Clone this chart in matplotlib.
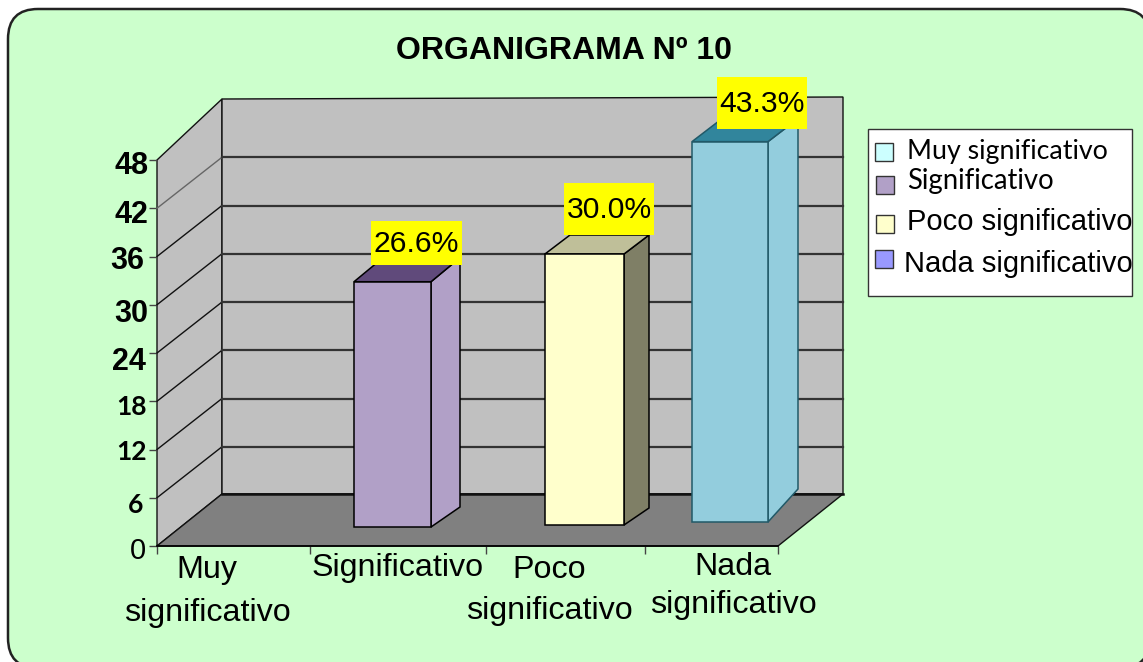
import matplotlib
matplotlib.use('Agg')
import matplotlib.pyplot as plt
import matplotlib.transforms as mtransforms
from matplotlib.patches import FancyBboxPatch, Polygon, Rectangle

# data
categories = ['Muy\nsignificativo', 'Significativo', 'Poco\nsignificativo', 'Nada\nsignificativo']
values = [30.5, 33.7, 47.3]
value_labels = ['26.6%', '30.0%', '43.3%']
y_ticks = [0, 6, 12, 18, 24, 30, 36, 42, 48]
legend_labels = ['Muy significativo', 'Significativo', 'Poco significativo', 'Nada significativo']
legend_colors = ['#CCFFFF', '#B1A0C7', '#FFFFCC', '#9999FF']

W, H = 1143, 662
L, R, B, T = 157, 778, 546, 160
UNIT = (B - T) / 48.0

# bar layout, in pixels
bar_left = [354, 545, 692]
bar_width = [77, 79, 76]
bar_base = [19, 21, 24]
bar_dx = [29, 25, 30]
bar_dy_top = [24, 19, 23]
bar_dy_bot = [20, 17, 33]
front_col = ['#B1A0C7', '#FFFFCC', '#93CDDD']
top_col = ['#604A7B', '#BFBF99', '#31859C']
side_col = ['#B1A0C7', '#7F7F66', '#93CDDD']
edge_col = ['black', 'black', '#215968']
label_box = [(371, 221, 91, 44), (564, 183, 90, 52), (717, 77, 90, 52)]
cat_x = [207, 398, 549, 733]
cat_line_y = [(570, 613), (568,), (570, 611), (567, 605)]


def yv(py):
    return (B - py) / UNIT


fig = plt.figure(figsize=(W / 100, H / 100), dpi=100, facecolor='white')

# background panel, title and legend in pixel coordinates
bg = fig.add_axes([0, 0, 1, 1])
bg.set_xlim(0, W)
bg.set_ylim(H, 0)
bg.axis('off')
bg.add_patch(FancyBboxPatch((8 + 30, 9 + 30), 1150 - 30 - 38, 668 - 39 - 30,
                            boxstyle='round,pad=30,rounding_size=30',
                            fc='#CCFFCC', ec='#222222', lw=1.8))
bg.text(564, 51, 'ORGANIGRAMA Nº 10', ha='center', va='center', fontsize=23,
        fontweight='bold', family='Liberation Sans', color='black')

bg.add_patch(Rectangle((868, 129), 264, 167, fc='white', ec='#333333', lw=1))
swatches = [(875, 143), (876, 176), (876, 215), (875, 250)]
for (sx, sy), c in zip(swatches, legend_colors):
    bg.add_patch(Rectangle((sx, sy), 18, 18, fc=c, ec='#333333', lw=1))
bg.text(907, 151, legend_labels[0], family='Lato', fontsize=19.3, va='center', color='black')
bg.text(907, 181, legend_labels[1], family='Lato', fontsize=19.8, va='center', color='black')
bg.text(907, 222, legend_labels[2], family='Liberation Sans', fontsize=21, va='center', color='black')
bg.text(904, 264, legend_labels[3], family='Liberation Sans', fontsize=21, va='center', color='black')

# plot axes, front plane of the 3D box
ax = fig.add_axes([L / W, 1 - B / H, (R - L) / W, (B - T) / H])
ax.set_xlim(L, R)
ax.set_ylim(0, 48)
ax.patch.set_visible(False)
for s in ['top', 'right', 'left']:
    ax.spines[s].set_visible(False)
ax.spines['bottom'].set_linewidth(1.2)
ax.spines['bottom'].set_zorder(4)

DX, DY = 65, 52
shift = DY / UNIT
grid_shift = 51 / UNIT

# walls and floor
ax.add_patch(Polygon([(L, 0), (L, 48), (L + DX, yv(99)), (L + DX, shift)], fc='#C0C0C0', ec='#111111',
                     lw=1, clip_on=False, zorder=1))
ax.add_patch(Polygon([(L + DX, shift), (L + DX, yv(99)), (R + DX, yv(97)), (R + DX, shift)], fc='#C0C0C0',
                     ec='#111111', lw=1, clip_on=False, zorder=1))
ax.add_patch(Polygon([(L, 0), (L + DX, shift), (R + DX, shift), (R, 0)], fc='#808080', ec='#111111',
                     lw=1, clip_on=False, zorder=1))

# gridlines on the side wall and the back wall
for v in y_ticks[1:-1]:
    ax.plot([L, L + DX], [v, v + grid_shift], color='#666666' if v == 42 else '#111111', lw=1,
            clip_on=False, zorder=2)
    ax.plot([L + DX, R + DX], [v + grid_shift, v + grid_shift], color='#333333', lw=1.6, clip_on=False, zorder=2)
ax.plot([L + DX, R + DX], [shift, shift], color='#111111', lw=1.8, clip_on=False, zorder=2)

# bars
for i, v in enumerate(values):
    x0, w = bar_left[i], bar_width[i]
    base = bar_base[i] / UNIT
    top = base + v
    dx, dt, db = bar_dx[i], bar_dy_top[i] / UNIT, bar_dy_bot[i] / UNIT
    ax.add_patch(Polygon([(x0 + w, base), (x0 + w, top), (x0 + w + dx, top + dt), (x0 + w + dx, base + db)],
                         fc=side_col[i], ec=edge_col[i], lw=1.1, clip_on=False, zorder=3))
    ax.add_patch(Polygon([(x0, top), (x0 + w, top), (x0 + w + dx, top + dt), (x0 + dx, top + dt)],
                         fc=top_col[i], ec=edge_col[i], lw=1.1, clip_on=False, zorder=3))
    ax.bar(x0, v, width=w, bottom=base, align='edge', color=front_col[i], edgecolor=edge_col[i],
           linewidth=1.1, clip_on=False, zorder=3)
    bx, by, bw, bh = label_box[i]
    ax.add_patch(Rectangle((bx, yv(by + bh)), bw, bh / UNIT, fc='#FFFF00', ec='none', clip_on=False, zorder=5))
    ax.text(bx + bw / 2, yv(by + bh / 2 + 1), value_labels[i], ha='center', va='center', fontsize=21.7,
            family='Liberation Sans', color='black', clip_on=False, zorder=6)

# y axis ticks, mixed fonts as in the original
ax.set_yticks(y_ticks)
ax.set_yticklabels([str(t) for t in y_ticks])
ax.tick_params(axis='y', length=6, width=1, color='#444444', pad=8)
y_fonts = [('Liberation Sans', 'normal', 21), ('Lato', 'bold', 19), ('Lato', 'bold', 19), ('Lato', 'bold', 19),
           ('Liberation Sans', 'bold', 22), ('Liberation Sans', 'bold', 22), ('Liberation Sans', 'bold', 22),
           ('Liberation Sans', 'bold', 22), ('Liberation Sans', 'bold', 22)]
y_off = [(8, -2), (6, -5), (9, -1), (9, -4), (8, -6), (11, -6), (7, -1), (11, -3), (11, -2)]
for lab, (fam, wt, fs), (ox, oy) in zip(ax.get_yticklabels(), y_fonts, y_off):
    lab.set_family(fam)
    lab.set_fontweight(wt)
    lab.set_fontsize(fs)
    lab.set_color('black')
    lab.set_transform(lab.get_transform() + mtransforms.ScaledTranslation(ox / 100, oy / 100, fig.dpi_scale_trans))

# x axis: boundary ticks, category names set line by line
ax.set_xticks([157, 310, 486, 645, 778])
ax.set_xticklabels([])
ax.tick_params(axis='x', which='major', length=6, width=1, color='#444444')
for name, cx, ys in zip(categories, cat_x, cat_line_y):
    for line, ly in zip(name.split('\n'), ys):
        ax.text(cx, yv(ly), line, ha='center', va='center', family='Liberation Sans', fontsize=23.2,
                color='black', clip_on=False)

fig.savefig('out.png', dpi=100)
